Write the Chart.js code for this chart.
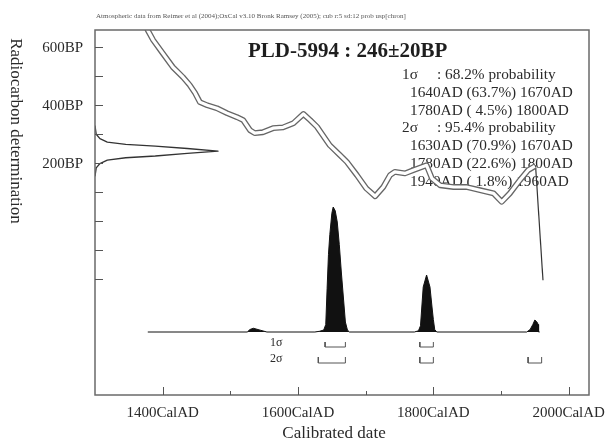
<!DOCTYPE html>
<html>
<head>
<meta charset="utf-8">
<title>PLD-5994</title>
<script src="https://cdn.jsdelivr.net/npm/chart.js@4"></script>
<style>
  body { margin: 0; background: #fff; }
</style>
</head>
<body>
<canvas id="calChart" width="605" height="448"></canvas>
<script>
// Calibration curve (cal AD / BP)
const curveYears = [1372, 1378, 1386, 1400, 1415, 1430, 1440, 1448, 1455, 1466, 1480, 1495, 1510, 1519, 1529, 1536, 1548, 1563, 1578, 1593, 1608, 1618, 1628, 1647, 1662, 1672, 1687, 1701, 1714, 1726, 1736, 1743, 1758, 1770, 1783, 1790, 1798, 1810, 1830, 1849, 1869, 1889, 1901, 1913, 1928, 1940, 1950];
const curveBP = [690, 659, 625, 580, 532, 497, 470, 442, 411, 400, 390, 373, 359, 349, 314, 304, 307, 321, 324, 338, 370, 349, 326, 262, 228, 205, 159, 113, 86, 118, 159, 170, 165, 176, 187, 193, 147, 124, 118, 118, 107, 96, 67, 96, 142, 176, 190];
// end of the curve (bomb carbon)
const dropYears = [1951, 1962];
const dropBP = [193, -204];

// Calibrated date, relative probability
const probYears = [1378, 1525, 1529, 1534, 1544, 1554, 1625, 1632, 1638, 1641, 1643, 1645, 1647, 1650, 1652, 1655, 1658, 1661, 1664, 1667, 1670, 1673, 1676, 1772, 1778, 1781, 1785, 1790, 1795, 1798, 1800, 1802, 1805, 1938, 1943, 1947, 1950, 1953, 1955, 1955.5, 1957];
const probValues = [0, 0, 0.02, 0.03, 0.015, 0, 0, 0.006, 0.016, 0.06, 0.35, 0.62, 0.78, 0.95, 1.0, 0.97, 0.88, 0.7, 0.48, 0.28, 0.08, 0.016, 0, 0, 0.01, 0.05, 0.36, 0.456, 0.36, 0.2, 0.1, 0.02, 0, 0, 0.02, 0.06, 0.096, 0.08, 0.06, 0, 0];

// Radiocarbon determination shown on the BP axis
const dateBP = [330, 300, 285, 273, 265, 259, 251, 242, 234, 225, 219, 211, 199, 184, 155];
const dateDensity = [0, 0.01, 0.04, 0.1, 0.25, 0.49, 0.75, 1.0, 0.75, 0.49, 0.25, 0.1, 0.04, 0.01, 0];

// Ranges
const sigma1From = [1640, 1780];
const sigma1To = [1670, 1800];
const sigma1Pct = ['63.7', ' 4.5'];
const sigma2From = [1630, 1780, 1940];
const sigma2To = [1670, 1800, 1960];
const sigma2Pct = ['70.9', '22.6', ' 1.8'];

// Ticks
const xLabelYears = [1400, 1600, 1800, 2000];
const xMinorYears = [1500, 1700, 1900];
const yTickBP = [-200, -100, 0, 100, 200, 300, 400, 500, 600];
const yLabelBP = [200, 400, 600];

const sampleName = 'PLD-5994';
const sampleAge = '246\u00b120BP';

function pts(xs, ys) {
    return xs.map((x, i) => ({ x: x, y: ys[i] }));
}

// brackets under the distribution
function bracketPoints(from, to, top, bottom) {
    const out = [];
    from.forEach(function (f, i) {
        out.push({ x: f, y: top }, { x: f, y: bottom }, { x: to[i], y: bottom }, { x: to[i], y: top }, { x: to[i], y: null });
    });
    return out;
}

const serif = '"Liberation Serif", "DejaVu Serif", serif';

const oxcalDecor = {
    id: 'oxcalDecor',
    beforeDatasetsDraw(chart) {
        const ctx = chart.ctx;
        ctx.save();
        ctx.fillStyle = '#1e1e1e';
        ctx.textBaseline = 'middle';
        ctx.textAlign = 'left';

        // title
        ctx.font = 'bold 21px ' + serif;
        ctx.fillText(sampleName + ' : ' + sampleAge, 248, 52);

        // ranges
        ctx.font = '15.3px ' + serif;
        ctx.fillStyle = '#2a2a2a';
        const step = 17.8;
        let y = 75;
        ctx.fillText('1\u03c3', 402, y);
        ctx.fillText(': 68.2% probability', 437, y);
        y += step;
        sigma1From.forEach(function (f, i) {
            ctx.fillText(f + 'AD (' + sigma1Pct[i] + '%) ' + sigma1To[i] + 'AD', 410, y);
            y += step;
        });
        ctx.fillText('2\u03c3', 402, y);
        ctx.fillText(': 95.4% probability', 437, y);
        y += step;
        sigma2From.forEach(function (f, i) {
            ctx.fillText(f + 'AD (' + sigma2Pct[i] + '%) ' + sigma2To[i] + 'AD', 410, y);
            y += step;
        });
        ctx.restore();
    },
    afterDatasetsDraw(chart) {
        const ctx = chart.ctx;
        const a = chart.chartArea;
        const sx = chart.scales.x;
        const sy = chart.scales.y;
        const sp = chart.scales.yp;
        ctx.save();

        // frame
        ctx.strokeStyle = '#6a6a6a';
        ctx.lineWidth = 1.5;
        ctx.strokeRect(a.left, a.top, a.right - a.left, a.bottom - a.top);

        // ticks
        ctx.lineWidth = 1;
        ctx.strokeStyle = '#555';
        ctx.beginPath();
        yTickBP.forEach(function (v) {
            const py = Math.round(sy.getPixelForValue(v)) + 0.5;
            ctx.moveTo(a.left, py);
            ctx.lineTo(a.left + 8, py);
        });
        xLabelYears.forEach(function (v) {
            const px = Math.round(sx.getPixelForValue(v)) + 0.5;
            ctx.moveTo(px, a.bottom);
            ctx.lineTo(px, a.bottom - 8);
        });
        xMinorYears.forEach(function (v) {
            const px = Math.round(sx.getPixelForValue(v)) + 0.5;
            ctx.moveTo(px, a.bottom);
            ctx.lineTo(px, a.bottom - 4);
        });
        ctx.stroke();

        // tick labels
        ctx.fillStyle = '#2a2a2a';
        ctx.font = '15px ' + serif;
        ctx.textBaseline = 'middle';
        ctx.textAlign = 'center';
        xLabelYears.forEach(function (v) {
            ctx.fillText(v + 'CalAD', sx.getPixelForValue(v), 413);
        });
        ctx.textAlign = 'right';
        yLabelBP.forEach(function (v) {
            ctx.fillText(v + 'BP', 83, sy.getPixelForValue(v) + 1);
        });

        // axis titles
        ctx.font = '17px ' + serif;
        ctx.textAlign = 'center';
        ctx.fillText('Calibrated date', 334, 434);
        ctx.save();
        ctx.translate(15, 131);
        ctx.rotate(Math.PI / 2);
        ctx.fillText('Radiocarbon determination', 0, 0);
        ctx.restore();

        // sigma labels
        ctx.font = '12px ' + serif;
        ctx.textAlign = 'right';
        ctx.fillText('1\u03c3', sx.getPixelForValue(1577), sp.getPixelForValue(-0.09));
        ctx.fillText('2\u03c3', sx.getPixelForValue(1577), sp.getPixelForValue(-0.215));

        // header
        ctx.font = '7px ' + serif;
        ctx.fillStyle = '#555';
        ctx.textAlign = 'left';
        ctx.fillText('Atmospheric data from Reimer et al (2004);OxCal v3.10 Bronk Ramsey (2005); cub r:5 sd:12 prob usp[chron]', 96, 16);
        ctx.restore();
    }
};

const lineBase = {
    type: 'line',
    pointRadius: 0,
    tension: 0,
    fill: false,
    borderJoinStyle: 'round'
};

new Chart(document.getElementById('calChart'), {
    type: 'line',
    data: {
        datasets: [
            Object.assign({}, lineBase, {
                label: 'curve inner',
                data: pts(curveYears, curveBP),
                borderColor: '#ffffff',
                borderWidth: 3.2,
                xAxisID: 'x', yAxisID: 'y',
                order: 0
            }),
            Object.assign({}, lineBase, {
                label: 'curve',
                data: pts(curveYears, curveBP),
                borderColor: '#666666',
                borderWidth: 5.8,
                xAxisID: 'x', yAxisID: 'y',
                order: 1
            }),
            Object.assign({}, lineBase, {
                label: 'curve end',
                data: pts(dropYears, dropBP),
                borderColor: '#333333',
                borderWidth: 1.2,
                xAxisID: 'x', yAxisID: 'y',
                order: 2
            }),
            Object.assign({}, lineBase, {
                label: 'calibrated',
                data: pts(probYears, probValues),
                borderColor: '#111111',
                backgroundColor: '#111111',
                borderWidth: 1,
                fill: 'origin',
                xAxisID: 'x', yAxisID: 'yp',
                order: 3
            }),
            Object.assign({}, lineBase, {
                label: 'date',
                data: pts(dateDensity, dateBP),
                borderColor: '#333333',
                borderWidth: 1.3,
                xAxisID: 'xd', yAxisID: 'y',
                order: 4
            }),
            Object.assign({}, lineBase, {
                label: '1 sigma',
                data: bracketPoints(sigma1From, sigma1To, -0.08, -0.12),
                borderColor: '#555555',
                borderWidth: 1,
                spanGaps: false,
                xAxisID: 'x', yAxisID: 'yp',
                order: 5
            }),
            Object.assign({}, lineBase, {
                label: '2 sigma',
                data: bracketPoints(sigma2From, sigma2To, -0.2, -0.248),
                borderColor: '#555555',
                borderWidth: 1,
                spanGaps: false,
                xAxisID: 'x', yAxisID: 'yp',
                order: 6
            })
        ]
    },
    options: {
        responsive: false,
        animation: false,
        devicePixelRatio: 1,
        layout: { padding: { left: 95, top: 30, right: 16, bottom: 53 } },
        plugins: {
            legend: { display: false },
            tooltip: { enabled: false }
        },
        scales: {
            x: { type: 'linear', min: 1300, max: 2030, display: false },
            y: { type: 'linear', min: -600, max: 660, display: false },
            xd: { type: 'linear', min: 0, max: 4.016, display: false },
            yp: { type: 'linear', min: -0.504, max: 2.416, display: false }
        }
    },
    plugins: [oxcalDecor]
});
</script>
</body>
</html>
